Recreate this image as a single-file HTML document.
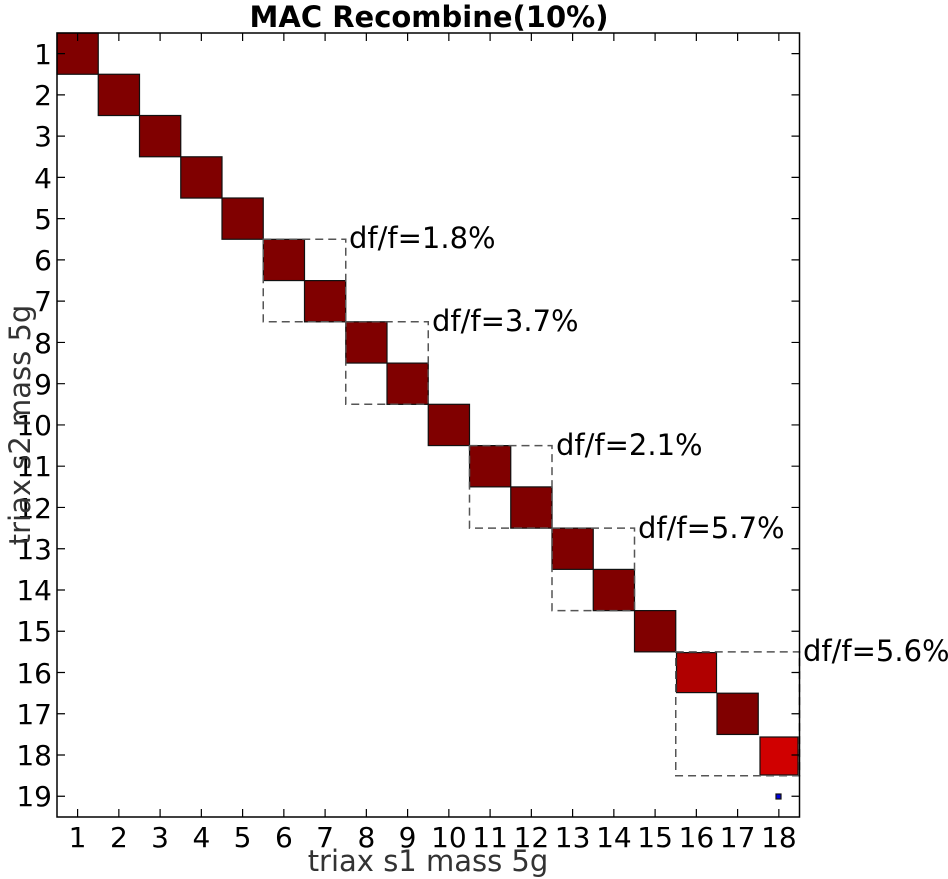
<!DOCTYPE html>
<html><head><meta charset="utf-8"><style>
html,body{margin:0;padding:0;background:#fff}
svg{display:block}
text{font-family:"DejaVu Sans","Liberation Sans",sans-serif}
</style></head><body>
<svg id="s" width="948" height="879" xmlns="http://www.w3.org/2000/svg">
<rect width="948" height="879" fill="#fff"/>
<text x="429" y="27" font-size="29" font-weight="bold" text-anchor="middle">MAC Recombine(10%)</text>
<g stroke="#111" stroke-width="1.2">
<rect x="57" y="33" width="41.25" height="41.26" fill="#800000"/>
<rect x="98.25" y="74.26" width="41.25" height="41.26" fill="#800000"/>
<rect x="139.5" y="115.5" width="41.25" height="41.26" fill="#800000"/>
<rect x="180.75" y="156.8" width="41.25" height="41.26" fill="#800000"/>
<rect x="222" y="198" width="41.25" height="41.26" fill="#800000"/>
<rect x="263.25" y="239.3" width="41.25" height="41.26" fill="#800000"/>
<rect x="304.5" y="280.6" width="41.25" height="41.26" fill="#800000"/>
<rect x="345.75" y="321.8" width="41.25" height="41.26" fill="#800000"/>
<rect x="387" y="363.1" width="41.25" height="41.26" fill="#800000"/>
<rect x="428.25" y="404.3" width="41.25" height="41.26" fill="#800000"/>
<rect x="469.5" y="445.6" width="41.25" height="41.26" fill="#800000"/>
<rect x="510.75" y="486.9" width="41.25" height="41.26" fill="#800000"/>
<rect x="552" y="528.1" width="41.25" height="41.26" fill="#800000"/>
<rect x="593.25" y="569.4" width="41.25" height="41.26" fill="#800000"/>
<rect x="634.5" y="610.6" width="41.25" height="41.26" fill="#800000"/>
<rect x="676.5" y="652.6" width="40" height="40" fill="#b00000"/>
<rect x="717" y="693.2" width="41.25" height="41.26" fill="#800000"/>
<rect x="760" y="737" width="38" height="38" fill="#d00000"/>
<rect x="776" y="794" width="5" height="5" fill="#0000e0"/>
</g>
<g fill="none" stroke="#555" stroke-width="1.5" stroke-dasharray="8,5">
<rect x="263.25" y="239.3" width="82.5" height="82.5"/>
<rect x="345.75" y="321.8" width="82.5" height="82.5"/>
<rect x="469.5" y="445.6" width="82.5" height="82.5"/>
<rect x="552" y="528.1" width="82.5" height="82.5"/>
<rect x="675.75" y="651.9" width="123.75" height="123.8"/>
</g>
<g font-size="29" fill="#000">
<text x="349" y="248">df/f=1.8%</text>
<text x="432" y="331">df/f=3.7%</text>
<text x="556" y="455">df/f=2.1%</text>
<text x="638" y="538">df/f=5.7%</text>
<text x="803" y="661">df/f=5.6%</text>
</g>
<rect x="57" y="33" width="742.5" height="784" fill="none" stroke="#000" stroke-width="1.5"/>
<g id="ticks" stroke="#000" stroke-width="1.2"></g>
<g font-size="28" text-anchor="middle">
<text x="77.6" y="847">1</text><text x="118.9" y="847">2</text><text x="160.1" y="847">3</text><text x="201.4" y="847">4</text><text x="242.6" y="847">5</text><text x="283.9" y="847">6</text><text x="325.1" y="847">7</text><text x="366.4" y="847">8</text><text x="407.6" y="847">9</text><text x="448.9" y="847">10</text><text x="490.1" y="847">11</text><text x="531.4" y="847">12</text><text x="572.6" y="847">13</text><text x="613.9" y="847">14</text><text x="655.1" y="847">15</text><text x="696.4" y="847">16</text><text x="737.6" y="847">17</text><text x="778.9" y="847">18</text>
</g>
<g font-size="28" text-anchor="end">
<text x="52" y="64">1</text><text x="52" y="105">2</text><text x="52" y="146">3</text><text x="52" y="188">4</text><text x="52" y="229">5</text><text x="52" y="270">6</text><text x="52" y="311">7</text><text x="52" y="353">8</text><text x="52" y="394">9</text><text x="52" y="435">10</text><text x="52" y="476">11</text><text x="52" y="518">12</text><text x="52" y="559">13</text><text x="52" y="600">14</text><text x="52" y="641">15</text><text x="52" y="683">16</text><text x="52" y="724">17</text><text x="52" y="765">18</text><text x="52" y="806">19</text>
</g>
<text x="428" y="871" font-size="29" fill="#333" text-anchor="middle">triax s1 mass 5g</text>
<text transform="translate(30,425) rotate(-90)" font-size="29" fill="#333" text-anchor="middle">triax s2 mass 5g</text>
</svg>
<script>
var g=document.getElementById('ticks'),d='';
for(var k=0;k<18;k++){var x=77.6+41.25*k;d+='M'+x+' 817V809M'+x+' 33V41';}
for(var r=0;r<19;r++){var y=53.6+41.26*r;d+='M57 '+y+'H65M799.5 '+y+'H791.5';}
var p=document.createElementNS('http://www.w3.org/2000/svg','path');p.setAttribute('d',d);g.appendChild(p);
</script>
</body></html>
